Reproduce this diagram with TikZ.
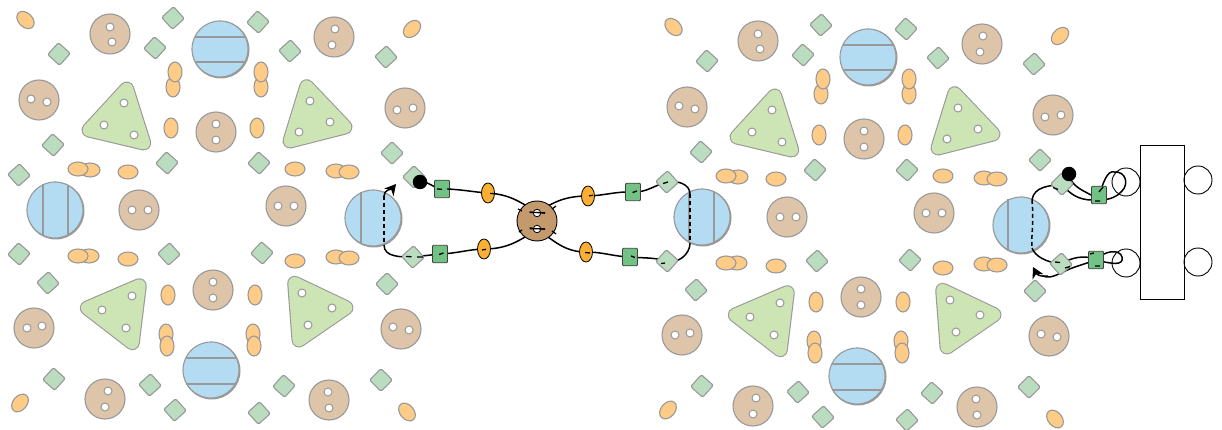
\documentclass[tikz,border=0pt]{standalone}
\usetikzlibrary{shapes.geometric,arrows.meta}
\pgfdeclarelayer{background}
\pgfdeclarelayer{wirelayer}
\pgfdeclarelayer{overlayer}
\pgfsetlayers{background,wirelayer,main,overlayer}
\definecolor{edgegray}{HTML}{999999}
\definecolor{palebrown}{HTML}{DEC5A9}
\definecolor{paleorange}{HTML}{FFCC88}
\definecolor{palegreen}{HTML}{BBDDBF}
\definecolor{triangreen}{HTML}{CDE4B5}
\definecolor{paleblue}{HTML}{B3DCF2}
\definecolor{midgreen}{HTML}{72C285}
\definecolor{strongorange}{HTML}{FBB034}
\definecolor{hubbrown}{HTML}{C49A6C}
\tikzset{
  x=1pt,y=-1pt,
  lozenge/.style={draw=edgegray,fill=palegreen,line width=1.1pt,rectangle,rounded corners=1.5pt,minimum size=16pt,inner sep=0pt},
  bean/.style={draw=edgegray,fill=paleorange,line width=1.1pt,ellipse,inner sep=0pt,minimum width=14pt,minimum height=20pt},
  lbean/.style={bean,minimum width=20pt,minimum height=14pt},
  disc/.style={draw=edgegray,fill=palebrown,line width=1.1pt,circle,minimum size=40pt,inner sep=0pt},
  hole/.style={draw=edgegray,fill=white,line width=1pt,circle,minimum size=8pt,inner sep=0pt},
  trigonout/.style={draw=edgegray,fill=edgegray,line width=15pt,line join=round},
  trigonin/.style={draw=triangreen,fill=triangreen,line width=12.8pt,line join=round},
  bluedisc/.style={draw=edgegray,fill=paleblue,line width=1.1pt,circle,minimum size=56pt,inner sep=0pt},
  blueline/.style={draw=edgegray,line width=1.2pt},
  wire/.style={draw=black,line width=1.5pt},
  hid/.style={draw=black,line width=1.3pt},
  hiddash/.style={draw=black,line width=1.5pt,dash pattern=on 4pt off 3pt},
  sqnode/.style={draw=black!75,fill=midgreen,line width=0.9pt,rectangle,rounded corners=1pt,minimum width=15pt,minimum height=17.5pt,inner sep=0pt},
  ornode/.style={draw=black,fill=strongorange,line width=0.8pt,ellipse,minimum width=13pt,minimum height=20pt,inner sep=0pt},
  termdot/.style={fill=black,circle,minimum size=14.5pt,inner sep=0pt},
  plain/.style={draw=black,line width=0.9pt,circle,minimum size=28pt,inner sep=0pt},
}
\newcommand{\trig}[6]{%
  \draw[trigonout] (#1,#2) -- (#3,#4) -- (#5,#6) -- cycle;
  \draw[trigonin] (#1,#2) -- (#3,#4) -- (#5,#6) -- cycle;}
\newcommand{\clusterpic}[1]{%
  \foreach \px/\py/\pr [count=\i] in {414/177/45,413/257/42,19/175/42,19/254/48,173/18/42,59/54/48,155/48/48,53/145/48,167/163/48,258/22/48,290/51/42,386/57/42,392/153/45,259/163/48,169/254/42,48/283/42,54/379/48,150/385/42,175/410/42,262/253/48,387/284/45,284/386/48,381/380/45,259/413/42}
    \node[lozenge,rotate=\pr] (#1d\i) at (\px,\py) {};
  \foreach \px/\py [count=\i] in {173/87,175/72,261/87,261/72,171/128,257/128,168/295,255/295,166/334,167/346,253/334,254/346}
    \node[bean] (#1b\i) at (\px,\py) {};
  \foreach \px/\py [count=\i] in {90/170,78/169,128/172,295/169,336/171,349/172,89/256,78/256,128/259,295/261,336/257,349/258}
    \node[lbean] (#1h\i) at (\px,\py) {};
  \foreach \px/\py/\pr [count=\i] in {25.5/20/-45,412/29/45,20/403/50,407/412/-50}
    \node[lbean,rotate=\pr] (#1t\i) at (\px,\py) {};
  \foreach \px/\py/\ax/\ay/\bx/\by [count=\i] in {110/34/110/27/112/42,39/100/31/99/47/102,139/210/132/210/148/210,216/132/216/124/216/140,334/37/335/29/332/45,405/108/397/110/413/108,286/206/278/206/294/206,34/328/27/328/42/326,105/399/108/391/105/407,213/290/213/282/213/298,401/329/393/327/409/330,329/400/328/392/329/408}{
    \node[disc] (#1c\i) at (\px,\py) {};
    \node[hole] (#1ca\i) at (\ax,\ay) {};
    \node[hole] (#1cb\i) at (\bx,\by) {};
  }
  \trig{126.7}{89}{89}{130}{143.7}{143}
  \trig{306.7}{86.7}{290}{141}{345}{127}
  \trig{139.3}{285.7}{87.3}{308}{132.3}{342.7}
  \trig{294.7}{283.3}{346}{307.7}{299}{340}
  \foreach \px/\py [count=\i] in {124/103,104/125,134/135,310/101,330/122,299/132,132/296,102/310,126/328,302/293,332/308,308/325}
    \node[hole] (#1k\i) at (\px,\py) {};
}
\newcommand{\bluev}[4]{%
  \begin{pgfonlayer}{background}
  \fill[edgegray] (#2+0.7,#3+0.7) circle[radius=28.8pt];
  \node[bluedisc] (#1) at (#2,#3) {};
  \draw[blueline] (#2+#4,#3-25.5) -- (#2+#4,#3+25.5);
  \end{pgfonlayer}}
\newcommand{\blueh}[4]{%
  \begin{pgfonlayer}{background}
  \fill[edgegray] (#2+0.7,#3+0.7) circle[radius=28.8pt];
  \node[bluedisc] (#1) at (#2,#3) {};
  \draw[blueline] (#2-25.5,#3+#4) -- (#2+25.5,#3+#4);
  \end{pgfonlayer}}
\begin{document}
\begin{tikzpicture}
\useasboundingbox (0,0) rectangle (1222,430);
% blue discs
\blueh{La}{220}{49}{-12}
\begin{pgfonlayer}{background}\draw[blueline] (195,62) -- (245,62);\end{pgfonlayer}
\bluev{Lb}{55}{210}{-12}
\begin{pgfonlayer}{background}\draw[blueline] (68,185) -- (68,235);\end{pgfonlayer}
\bluev{Lc}{373}{218}{-12}
\blueh{Ld}{211}{370}{-12}
\begin{pgfonlayer}{background}\draw[blueline] (186,384) -- (236,384);\end{pgfonlayer}
\blueh{Ra}{868}{57}{-12}
\begin{pgfonlayer}{background}\draw[blueline] (843,70) -- (893,70);\end{pgfonlayer}
\bluev{Rb}{702}{217}{-13}
\begin{pgfonlayer}{background}\draw[blueline] (714,192) -- (714,242);\end{pgfonlayer}
\bluev{Rc}{1021}{225}{-13}
\blueh{Rd}{857}{376}{-12}
\begin{pgfonlayer}{background}\draw[blueline] (832,390) -- (882,390);\end{pgfonlayer}
% clusters
\clusterpic{L}
\begin{scope}[shift={(648,7)}]
\clusterpic{R}
\end{scope}
% carrier
\node[draw=black,line width=0.9pt,minimum width=44pt,minimum height=154pt,inner sep=0pt] (rack) at (1162,222) {};
\node[plain] (pa) at (1126,182) {};
\node[plain] (pb) at (1198,180) {};
\node[plain] (pc) at (1126,263) {};
\node[plain] (pd) at (1198,262) {};
% wired parts
\node[termdot] (dotL) at (420,182) {};
\node[termdot] (dotR) at (1069,174) {};
\node[sqnode] (s1) at (442,189) {};
\node[sqnode] (s2) at (440,254) {};
\node[ornode] (o1) at (488,193) {};
\node[ornode] (o2) at (484,249) {};
\node[draw=black,fill=hubbrown,line width=0.9pt,circle,minimum size=40pt,inner sep=0pt] (hub) at (537,221) {};
\node[draw=black,fill=white,line width=0.8pt,circle,minimum size=7.5pt,inner sep=0pt] (h1) at (537,213) {};
\node[draw=black,fill=white,line width=0.8pt,circle,minimum size=7.5pt,inner sep=0pt] (h2) at (537,229) {};
\node[ornode] (o3) at (588,196) {};
\node[ornode] (o4) at (586,252) {};
\node[sqnode] (s3) at (633,192) {};
\node[sqnode] (s4) at (630,257) {};
\node[sqnode] (s5) at (1099,195) {};
\node[sqnode] (s6) at (1096,260) {};
\coordinate (jA) at (384,196);
\coordinate (jAt) at (396,184);
\coordinate (jB) at (384,245);
\coordinate (jC) at (690,194);
\coordinate (jD) at (690,243);
\coordinate (jE) at (1032,200);
\coordinate (jF) at (1032,248);
\coordinate (jG) at (1033,267);
\begin{pgfonlayer}{wirelayer}
\draw[wire] (dotL.center) to[out=10,in=178] (s1.center) to[out=0,in=176] (o1.center) to[out=-4,in=145] (h1.center);
\draw[wire] (jB) to[out=-90,in=180] (Ld2.center) -- (s2.center) to[out=2,in=182] (o2.center) to[out=0,in=-145] (h2.center);
\draw[wire] (h1.center) to[out=35,in=180] (o3.center) to[out=2,in=178] (s3.center) to[out=-2,in=195] (Rd3.center) to[out=10,in=90] (jC);
\draw[wire] (h2.center) to[out=-35,in=180] (o4.center) to[out=0,in=178] (s4.center) to[out=-5,in=165] (Rd4.center) to[out=-15,in=-90] (jD);
\draw[wire] (dotR.center) .. controls (1071,186) and (1082,190) .. (s5.west) -- (s5.center)
  .. controls (1103,184) and (1107,170) .. (1114,172) .. controls (1126,171) and (1129,184) .. (1122,191)
  .. controls (1118,196) and (1110,200) .. (1100,200) -- (1092,200)
  .. controls (1080,200) and (1070,195) .. (Rd1.center) .. controls (1050,186) and (1034,186) .. (jE);
\draw[wire] (jF) .. controls (1035,256) and (1045,262) .. (Rd2.center) .. controls (1070,258) and (1085,254) .. (s6.center)
  .. controls (1105,250) and (1120,249) .. (1122,257) .. controls (1124,266) and (1112,264) .. (s6.center)
  -- (1075,267) .. controls (1060,272) and (1052,280) .. (1043,276);
\end{pgfonlayer}
\draw[hiddash] (jA) -- (jB);
\draw[hiddash] (jC) -- (jD);
\draw[hiddash] (jE) .. controls (1034,225) and (1031,235) .. (jF);
\draw[wire,-{Stealth[length=11pt,width=12pt]}] (jA) to[out=90,in=-130] (jAt);
\draw[wire,-{Stealth[length=11pt,width=12pt]}] (1048,276) .. controls (1042,277) and (1037,275) .. (jG);
\begin{pgfonlayer}{overlayer}
\draw[hid] (437,189) -- (442,189.3) (447,189) -- (451.5,189.3);
\draw[hid] (490,193.4) -- (494,193.7);
\draw[hid] (439,254.5) -- (443.5,253);
\draw[hid] (482,250) -- (486,249.3);
\draw[hid] (406,256.5) -- (411.5,256.7) (417,257) -- (423,257);
\draw[hid] (518,209) -- (522,211) (529.5,212) -- (533,212.3) (541.6,212.7) -- (545,213.3) (552,209) -- (556,206);
\draw[hid] (529.5,228) -- (533,228.3) (541.6,228.7) -- (545,229.3) (519,232) -- (522,230) (552,231) -- (556,234);
\draw[hid] (530,212.4) -- (545,212.8) (530,228.6) -- (545,229);
\draw[hid] (589,195.8) -- (593,195.3);
\draw[hid] (632.5,192.5) -- (637,191);
\draw[hid] (663,183.5) -- (668,182);
\draw[hid] (631,256) -- (635,257.5);
\draw[hid] (585,252.5) -- (590,253);
\draw[hid] (661,263.5) -- (665,263);
\draw[hid] (1053,187.5) -- (1058,189.5);
\draw[hid] (1099,192) -- (1103,187) (1095,201) -- (1100,201);
\draw[hid] (1055,262) -- (1060,262.5) (1065,268) -- (1070,266.5);
\draw[hid] (1095,266) -- (1100,266) (1090,254) -- (1094,253);
\end{pgfonlayer}
\end{tikzpicture}
\end{document}
